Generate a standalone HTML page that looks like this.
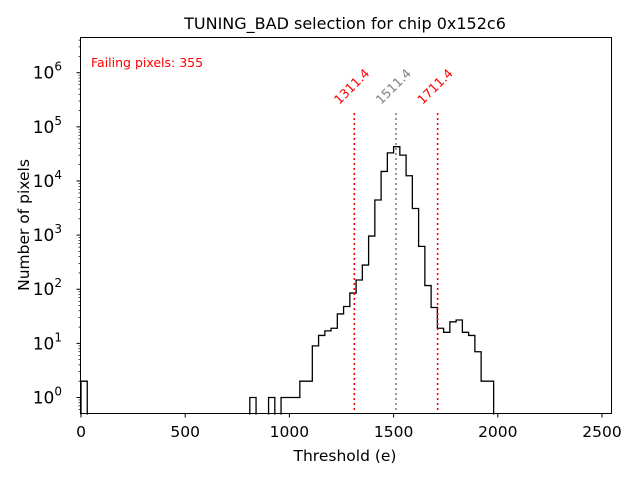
<!DOCTYPE html>
<html><head><meta charset="utf-8"><style>
body{margin:0;background:#fff;font-family:"Liberation Sans","DejaVu Sans",sans-serif}
svg text{font-family:"DejaVu Sans","Liberation Sans",sans-serif}
</style></head><body>
<svg id="chart" width="640" height="480" xmlns="http://www.w3.org/2000/svg">
<rect width="640" height="480" fill="#fff"/>
<text x="345" y="29" font-size="16" text-anchor="middle">TUNING_BAD selection for chip 0x152c6</text>
<text x="345" y="461" font-size="15.5" text-anchor="middle">Threshold (e)</text>
<text transform="translate(29,225) rotate(-90)" font-size="15.5" text-anchor="middle">Number of pixels</text>
<g id="ticks"></g>
<g id="plot"></g>
<rect x="80.5" y="37.5" width="531" height="376" fill="none" stroke="#000" stroke-width="1"/>
<text x="91" y="67" font-size="12.5" fill="#ff0000">Failing pixels: 355</text>
</svg>
<script>
const binStart = 0;
const binWidth = 30;
const binStarts = [0,810,900,960,990,1020,1050,1080,1110,1140,1170,1200,1230,1260,1290,1320,1350,1380,1410,1440,1470,1500,1530,1560,1590,1620,1650,1680,1710,1740,1770,1800,1830,1860,1890,1920,1950];
const counts = [2,1,1,1,1,1,2,2,9,14,17,19,35,48,85,148,280,960,4450,15000,33000,43000,30000,12500,3100,620,117,46,19,16,25,27,16,14,7,2,2];
const xTicks = [0,500,1000,1500,2000,2500];
const yTicksExp = [0,1,2,3,4,5,6];
const cutLines = [1311.4,1511.4,1711.4];
const cutColors = ['#ff0000','#808080','#ff0000'];
const NS='http://www.w3.org/2000/svg';
const X0=81,XS=(602-81)/2500;
const Y0=397.5,DEC=54.13;
function xs(v){return X0+v*XS;}
function ys(v){return v<=0?420:Y0-Math.log10(v)*DEC;}
function mk(t,a,p){const e=document.createElementNS(NS,t);for(const k in a)e.setAttribute(k,a[k]);p.appendChild(e);return e;}
const plot=document.getElementById('plot'),tk=document.getElementById('ticks');
const map={};binStarts.forEach((s,i)=>map[s]=counts[i]);
let d='',prev=0;
for(let s=0;s<=2010;s+=binWidth){
  const c=map[s]||0;
  const x=xs(s);
  if(c!==prev){ d+=(d?'M':'M')+x.toFixed(2)+','+Math.min(ys(prev),414).toFixed(2)+'L'+x.toFixed(2)+','+Math.min(ys(c),414).toFixed(2);}
  if(c>0){ d+='M'+x.toFixed(2)+','+ys(c).toFixed(2)+'L'+xs(s+binWidth).toFixed(2)+','+ys(c).toFixed(2);}
  prev=c;
}
const hist=mk('path',{d:d,fill:'none',stroke:'#000','stroke-width':1.3,'stroke-linecap':'square'},plot);


cutLines.forEach((v,i)=>{
  const x=xs(v);
  const l=mk('line',{x1:x,x2:x,y1:113,y2:413,stroke:cutColors[i],'stroke-width':1.6,'stroke-dasharray':'2,3'},plot);
  
  
  const tx=x-15,ty=105;
  const t=mk('text',{x:tx,y:ty,'font-size':12.5,fill:cutColors[i],transform:`rotate(-45 ${tx} ${ty})`},plot);
  t.textContent=v.toFixed(1);
  
  
});
xTicks.forEach(v=>{
  const x=xs(v);
  mk('line',{x1:x,x2:x,y1:413,y2:417.5,stroke:'#000'},tk);
  const t=mk('text',{x:x,y:437,'font-size':15.5,'text-anchor':'middle'},tk);
  t.textContent=v;
  
  
});
for(let e=-1;e<=6;e++){
  for(let m=1;m<10;m++){
    const y=ys(m*Math.pow(10,e));
    if(y<37||y>413)continue;
    mk('line',{x1:m==1?76.5:78.5,x2:80.5,y1:y,y2:y,stroke:'#000','stroke-width':m==1?1:0.7},tk);
  }
}
yTicksExp.forEach(e=>{
  const y=ys(Math.pow(10,e));
  const t=mk('text',{x:62,y:y+6,'font-size':17,'text-anchor':'end'},tk);
  t.innerHTML='10<tspan dy="-8" font-size="12">'+e+'</tspan>';
  
  
});
</script>
</body></html>
